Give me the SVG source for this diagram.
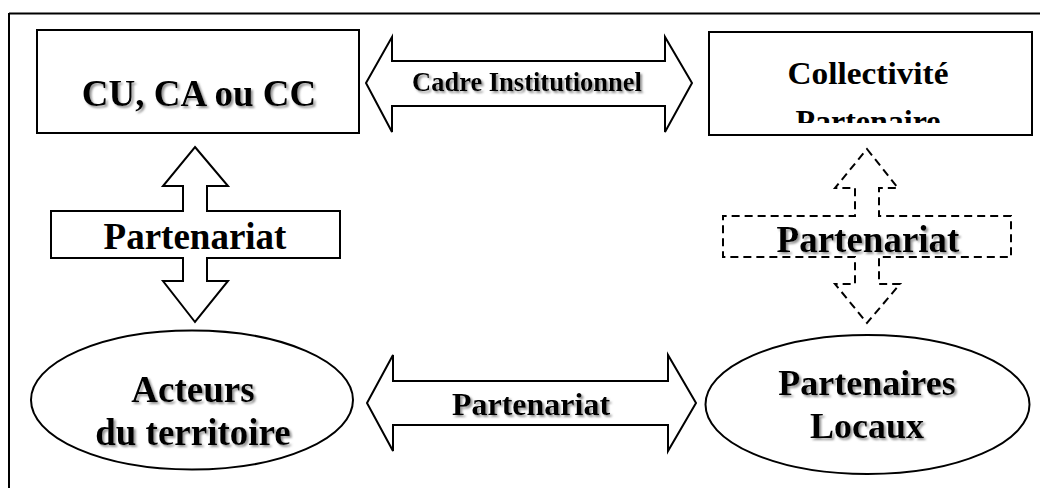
<svg xmlns="http://www.w3.org/2000/svg" width="1047" height="488" viewBox="0 0 1047 488">
<style>
.shape{fill:#fff;stroke:#000;stroke-width:2;stroke-linejoin:miter}
.dash{fill:#fff;stroke:#000;stroke-width:2;stroke-dasharray:8 5}
.t{font-family:"Liberation Serif","Times New Roman",serif;font-weight:bold;fill:#000;text-anchor:middle}
.sh{filter:url(#shadow)}
</style>
<defs>
<filter id="shadow" x="-10%" y="-30%" width="120%" height="160%">
<feDropShadow dx="2" dy="2" stdDeviation="0.8" flood-color="#777" flood-opacity="0.8"/>
</filter>
<clipPath id="clipR"><rect x="710" y="33" width="321" height="90"/></clipPath>
</defs>
<g id="frame">
<line x1="9" y1="13.5" x2="1040" y2="13.5" stroke="#000" stroke-width="2"/>
<line x1="9" y1="13" x2="9" y2="488" stroke="#000" stroke-width="2"/>
</g>
<g id="connectors">
<g id="arrow-cadre">
<polygon class="shape" points="366,83 392,37 392,61 665,61 665,37 692,83 665,132 665,106 392,106 392,132"/>
<text class="t sh" x="527" y="91" font-size="26.5">Cadre Institutionnel</text>
</g>
<g id="arrow-left-partenariat">
<polygon class="shape" points="195,147 228,186 207,186 207,211 340,211 340,258 207,258 207,281 228,281 195,322 163,281 183,281 183,258 51,258 51,211 183,211 183,186 163,186"/>
<text class="t" x="195" y="249" font-size="37">Partenariat</text>
</g>
<g id="arrow-right-partenariat">
<polygon class="dash" points="867,149 898,188 879,188 879,216 1011,216 1011,257 879,257 879,284 900,284 867,323 835,284 855,284 855,257 723,257 723,216 855,216 855,188 835,188"/>
<text class="t sh" x="868" y="252" font-size="37">Partenariat</text>
</g>
<g id="arrow-bottom">
<polygon class="shape" points="367,403 393,355 393,381 668,381 668,355 696,403 668,451 668,425 393,425 393,451"/>
<text class="t sh" x="531" y="415" font-size="32">Partenariat</text>
</g>
</g>
<g id="node-cu">
<rect class="shape" x="37" y="30" width="322" height="103"/>
<text class="t sh" x="199" y="106" font-size="37">CU, CA ou CC</text>
</g>
<g id="node-collectivite">
<rect class="shape" x="709" y="32" width="323" height="103"/>
<g clip-path="url(#clipR)">
<text class="t" x="868" y="84" font-size="32" textLength="161" lengthAdjust="spacingAndGlyphs">Collectivité</text>
<text class="t" x="868" y="132" font-size="32">Partenaire</text>
</g>
</g>
<g id="node-acteurs">
<ellipse class="shape" cx="192" cy="400" rx="161" ry="69.5"/>
<text class="t sh" x="193" y="402" font-size="37">Acteurs</text>
<text class="t sh" x="193" y="445" font-size="37">du territoire</text>
</g>
<g id="node-partenaires">
<ellipse class="shape" cx="867.5" cy="404.5" rx="162" ry="69.5"/>
<text class="t sh" x="867" y="395" font-size="36">Partenaires</text>
<text class="t sh" x="867" y="438" font-size="36">Locaux</text>
</g>
</svg>
